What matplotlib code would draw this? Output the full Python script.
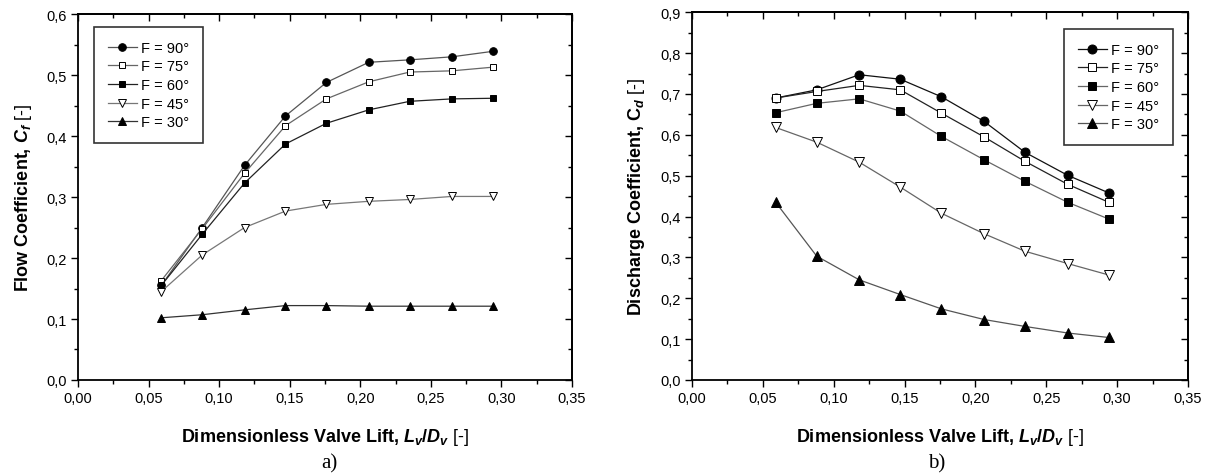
import matplotlib
matplotlib.use("Agg")
import matplotlib.pyplot as plt
from matplotlib.ticker import MultipleLocator, FuncFormatter

plt.rcParams['font.family'] = ['Liberation Sans', 'DejaVu Sans']
plt.rcParams['mathtext.fontset'] = 'custom'
plt.rcParams['mathtext.rm'] = 'Liberation Sans'
plt.rcParams['mathtext.it'] = 'Liberation Sans:italic:bold'
plt.rcParams['mathtext.bf'] = 'Liberation Sans:bold'

lift = [0.059, 0.088, 0.118, 0.147, 0.176, 0.206, 0.235, 0.265, 0.294]
labels = ["F = 90°", "F = 75°", "F = 60°", "F = 45°", "F = 30°"]

cf_90 = [0.155, 0.250, 0.352, 0.433, 0.488, 0.521, 0.525, 0.530, 0.539]
cf_75 = [0.163, 0.248, 0.339, 0.417, 0.461, 0.489, 0.505, 0.507, 0.513]
cf_60 = [0.155, 0.239, 0.323, 0.387, 0.421, 0.443, 0.457, 0.461, 0.462]
cf_45 = [0.145, 0.205, 0.250, 0.277, 0.288, 0.293, 0.296, 0.301, 0.301]
cf_30 = [0.102, 0.107, 0.115, 0.122, 0.122, 0.121, 0.121, 0.121, 0.121]

cd_90 = [0.690, 0.710, 0.747, 0.736, 0.693, 0.633, 0.557, 0.501, 0.458]
cd_75 = [0.690, 0.706, 0.721, 0.710, 0.653, 0.595, 0.535, 0.479, 0.435]
cd_60 = [0.654, 0.677, 0.688, 0.658, 0.596, 0.539, 0.486, 0.435, 0.394]
cd_45 = [0.618, 0.582, 0.533, 0.472, 0.408, 0.358, 0.315, 0.285, 0.257]
cd_30 = [0.435, 0.303, 0.245, 0.209, 0.174, 0.148, 0.131, 0.115, 0.104]

markers = ['o', 's', 's', 'v', '^']
facecolors = ['black', 'white', 'black', 'white', 'black']
msizes = [5.5, 5, 4.5, 5.5, 5.5]
left_colors = ['#555555', '#666666', '#222222', '#777777', '#333333']
right_colors = ['#111111', '#222222', '#666666', '#666666', '#555555']

fig = plt.figure(figsize=(12.06, 4.77), dpi=100)
ax1 = fig.add_axes([0.0647, 0.2013, 0.4096, 0.767])
ax2 = fig.add_axes([0.5738, 0.2013, 0.4113, 0.771])


def comma(fmt):
    return FuncFormatter(lambda v, p: (fmt % v).replace('.', ','))


def style(ax, ymax, ylabel):
    ax.set_xlim(0, 0.35)
    ax.set_ylim(0, ymax)
    ax.xaxis.set_major_locator(MultipleLocator(0.05))
    ax.xaxis.set_minor_locator(MultipleLocator(0.025))
    ax.yaxis.set_major_locator(MultipleLocator(0.1))
    ax.yaxis.set_minor_locator(MultipleLocator(0.05))
    ax.xaxis.set_major_formatter(comma('%.2f'))
    ax.yaxis.set_major_formatter(comma('%.1f'))
    ax.tick_params(which='major', direction='out', length=5, width=1,
                   labelsize=10.5, colors='black', pad=3)
    ax.tick_params(which='minor', direction='out', length=3, width=1)
    for s in ax.spines.values():
        s.set_linewidth(1.3)
    top = ax.secondary_xaxis('top')
    top.xaxis.set_major_locator(MultipleLocator(0.05))
    top.xaxis.set_minor_locator(MultipleLocator(0.025))
    top.tick_params(which='major', direction='in', length=5, width=1, labeltop=False)
    top.tick_params(which='minor', direction='in', length=3, width=1)
    top.spines['top'].set_linewidth(1.3)
    right = ax.secondary_yaxis('right')
    right.yaxis.set_major_locator(MultipleLocator(0.1))
    right.yaxis.set_minor_locator(MultipleLocator(0.05))
    right.tick_params(which='major', direction='in', length=5, width=1, labelright=False)
    right.tick_params(which='minor', direction='in', length=3, width=1)
    right.spines['right'].set_linewidth(1.3)
    ax.set_xlabel(r"Dimensionless Valve Lift, $L_v\mathbf{/}D_v$ $\text{[-]}$",
                  fontsize=13, fontweight='bold')
    ax.set_ylabel(ylabel, fontsize=13, fontweight='bold')
    ax.xaxis.set_label_coords(0.5, -0.125)
    ax.yaxis.set_label_coords(-0.09, 0.5)


for ys, m, fc, ms, c, lab in zip([cf_90, cf_75, cf_60, cf_45, cf_30], markers,
                                 facecolors, msizes, left_colors, labels):
    ax1.plot(lift, ys, color=c, lw=0.9, marker=m, ms=ms, mfc=fc, mec='black',
             mew=0.7, label=lab)
for ys, m, fc, ms, c, lab in zip([cd_90, cd_75, cd_60, cd_45, cd_30], markers,
                                 facecolors, msizes, right_colors, labels):
    ax2.plot(lift, ys, color=c, lw=0.9, marker=m, ms=ms + 1, mfc=fc, mec='black',
             mew=0.7, label=lab)

style(ax1, 0.6, r"Flow Coefficient, $C_f$ $\text{[-]}$")
style(ax2, 0.9, r"Discharge Coefficient, $\mathbf{C}_d$ $\text{[-]}$")

for ax, loc, anchor in [(ax1, 'upper left', (0.032, 0.965)), (ax2, 'upper right', (0.97, 0.955))]:
    leg = ax.legend(loc=loc, bbox_to_anchor=anchor, fontsize=10.5, numpoints=1,
                    handlelength=2.0, handletextpad=0.3, labelspacing=0.32,
                    borderpad=0.95, borderaxespad=0.0, fancybox=False, frameon=True)
    leg.get_frame().set_edgecolor('black')
    leg.get_frame().set_linewidth(1.2)

fig.text(0.273, 0.027, "a)", fontsize=15, family='Liberation Serif', ha='center', va='center')
fig.text(0.777, 0.027, "b)", fontsize=15, family='Liberation Serif', ha='center', va='center')

fig.savefig("out.png", dpi=100)
